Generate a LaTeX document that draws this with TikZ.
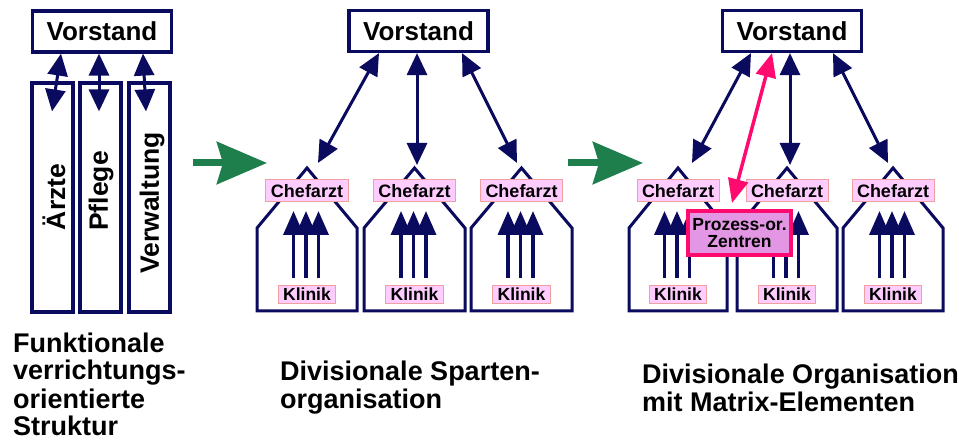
\documentclass[tikz,border=0pt]{standalone}
\usepackage{fontspec}
\setmainfont{Liberation Sans}
\usetikzlibrary{arrows.meta}
\definecolor{navy}{HTML}{0A0A5E}
\definecolor{grn}{HTML}{1E7E4C}
\definecolor{lpink}{HTML}{FFCCFF}
\definecolor{lpinkb}{HTML}{F0A0A0}
\definecolor{orch}{HTML}{E396E3}
\definecolor{hot}{HTML}{FF0A6E}
\newcommand\myfs[2]{\fontsize{#1}{#2}\selectfont\bfseries}
\begin{document}
\begin{tikzpicture}[x=1pt,y=-1pt,
  vbox/.style={draw=navy,line width=3.2pt,fill=white,inner sep=0pt,
    minimum width=139pt,minimum height=41pt,font=\myfs{26}{26}},
  colbox/.style={draw=navy,line width=3.2pt,inner sep=0pt,
    minimum width=41pt,minimum height=229pt},
  rottext/.style={rotate=90,inner sep=0pt,font=\myfs{26.5}{26.5}},
  dbl/.style={draw=navy,line width=3pt,
    {Triangle[length=22pt,width=20pt]}-{Triangle[length=22pt,width=20pt]}},
  house/.style={draw=navy,line width=3pt,fill=white},
  tri/.style={draw=navy,line width=3.5pt,-{Triangle[length=24pt,width=20pt]}},
  chef/.style={draw=lpinkb,fill=lpink,line width=1pt,inner xsep=5pt,inner ysep=0pt,
    minimum height=22pt,font=\myfs{18}{18}},
  klin/.style={draw=lpinkb,fill=lpink,line width=1pt,inner xsep=5pt,inner ysep=0pt,
    minimum height=18pt,font=\myfs{17.5}{17.5}},
  proz/.style={draw=hot,fill=orch,line width=4pt,inner sep=0pt,minimum width=103pt,
    minimum height=44pt,align=center,font=\myfs{17.5}{17}},
  pinkarr/.style={draw=hot,line width=3.5pt,
    {Triangle[length=24pt,width=20pt]}-{Triangle[length=24pt,width=20pt]}},
  greenarr/.style={draw=grn,line width=7pt,-{Stealth[length=50pt,width=42pt,inset=6pt]}},
  captext/.style={anchor=base west,inner sep=0pt,align=left,font=\myfs{27}{28}}
]
\useasboundingbox (0,0) rectangle (959,443);

% ---------- left: functional structure ----------
\node[vbox] (V1) at (102,31.5) {Vorstand};
\node[colbox] (c1) at (52.5,197.5) {};
\node[colbox] (c2) at (100.5,197.5) {};
\node[colbox] (c3) at (149.5,197.5) {};
\node[rottext] (t1) at (54,197) {Ärzte};
\node[rottext] (t2) at (101,191) {Pflege};
\node[rottext] (t3) at (152,203) {Verwaltung};
\draw[dbl] ([xshift=-41pt]V1.south) -- ([xshift=-0.5pt,yshift=-30pt]c1.north);
\draw[dbl] ([xshift=-3pt]V1.south) -- ([xshift=-1.5pt,yshift=-30pt]c2.north);
\draw[dbl] ([xshift=41pt]V1.south) -- ([xshift=-3.5pt,yshift=-30pt]c3.north);

% ---------- green arrows ----------
\coordinate (g1a) at (193,163);
\coordinate (g1b) at (267,163);
\coordinate (g2a) at (568,163);
\coordinate (g2b) at (643,163);
\draw[greenarr] (g1a) -- (g1b);
\draw[greenarr] (g2a) -- (g2b);

% ---------- houses ----------
\foreach \c/\w/\n in {307/50/a,414.5/50.5/b,521.5/50.5/c,678/49/d,787/50/e,893/50/f}{
  \draw[house] (\c-\w,311) -- (\c-\w,228) -- (\c,168) -- (\c+\w,228) -- (\c+\w,311) -- cycle;
  \draw[tri] (\c-13.5,278) -- (\c-13.5,211);
  \draw[tri] (\c-1,278) -- (\c-1,211);
  \draw[tri] (\c+11.5,278) -- (\c+11.5,211);
  \node[chef] (ch\n) at (\c,191) {Chefarzt};
  \node[klin] (kl\n) at (\c,294.5) {Klinik};
}

% ---------- middle: divisional ----------
\node[vbox] (V2) at (418.5,31) {Vorstand};
\coordinate (ma) at (318,163);
\coordinate (mb) at (417,165);
\coordinate (mc) at (517,163);
\draw[dbl] ([xshift=-39.5pt]V2.south) -- (ma);
\draw[dbl] ([xshift=-1.5pt]V2.south) -- (mb);
\draw[dbl] ([xshift=43.5pt]V2.south) -- (mc);

% ---------- right: matrix ----------
\node[vbox] (V3) at (792,31) {Vorstand};
\node[proz] (pz) at (739.5,233) {Prozess-or.\\Zentren};
\coordinate (ra) at (692,163);
\coordinate (rb) at (790,165);
\coordinate (rc) at (888,163);
\draw[dbl] ([xshift=-41pt]V3.south) -- (ra);
\draw[dbl] ([xshift=-2pt]V3.south) -- (rb);
\draw[dbl] ([xshift=41pt]V3.south) -- (rc);
\draw[pinkarr] ([xshift=-20pt]V3.south) -- ([xshift=-7.5pt,yshift=6pt]pz.north);

% ---------- captions (anchor = baseline of last line) ----------
\node[captext] (k1) at (13,436) {Funktionale\\verrichtungs-\\orientierte\\Struktur};
\node[captext] (k2) at (280,409) {Divisionale Sparten-\\organisation};
\node[captext] (k3) at (642,412) {Divisionale Organisation\\mit Matrix-Elementen};
\end{tikzpicture}
\end{document}
